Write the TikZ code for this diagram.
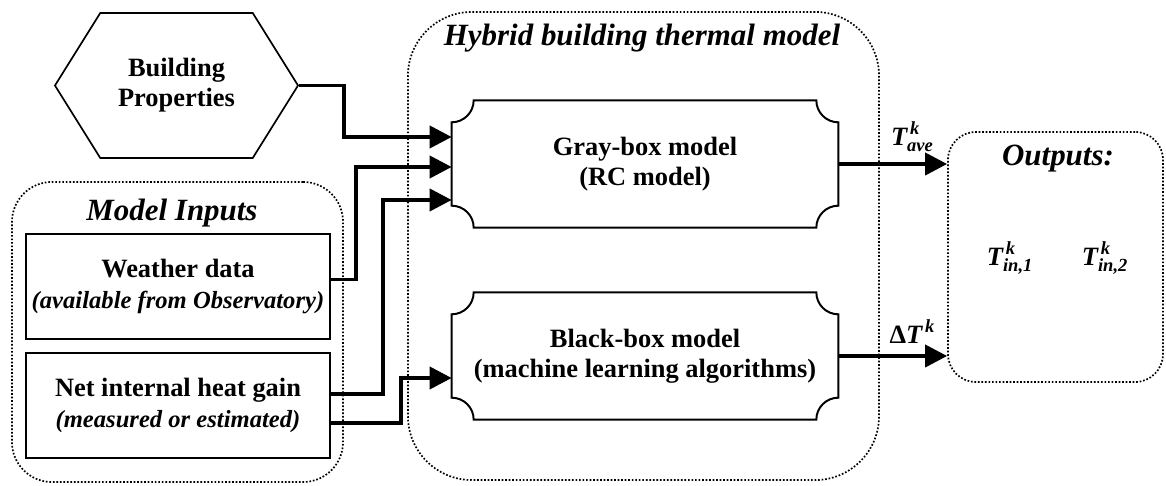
\documentclass[tikz,border=0pt]{standalone}
\usepackage{amsmath}
\usepackage{fontspec}
\setmainfont{Liberation Serif}
\usetikzlibrary{calc,arrows.meta,shapes.symbols}
\tikzset{
    txt/.style={font=\bfseries\fontsize{18.8}{21.5}\selectfont, align=center},
    ttl/.style={font=\bfseries\itshape\fontsize{22}{26}\selectfont},
    dotbox/.style={draw, line width=1.2pt, dash pattern=on 1.2pt off 1.3pt, rounded corners=#1, inner sep=0pt},
    inbox/.style={draw, line width=1pt, minimum width=7.6cm, minimum height=2.625cm, inner sep=0pt},
    modelbox/.style={minimum width=9.65cm, minimum height=3.17cm, inner sep=0pt},
    conn/.style={line width=2.8pt, -{Triangle[length=0.55cm,width=0.55cm]}}
}
\newcommand{\notchr}{0.55cm}
\newcommand{\notchbox}[1]{%
  \draw[line width=1.4pt]
    ($(#1.north west)+(\notchr,0)$) -- ($(#1.north east)-(\notchr,0)$)
    arc[start angle=180, end angle=270, radius=\notchr]
    -- ($(#1.south east)+(0,\notchr)$)
    arc[start angle=90, end angle=180, radius=\notchr]
    -- ($(#1.south west)+(\notchr,0)$)
    arc[start angle=0, end angle=90, radius=\notchr]
    -- ($(#1.north west)-(0,\notchr)$)
    arc[start angle=270, end angle=360, radius=\notchr] -- cycle;}
\newcommand{\bivar}[1]{\text{\bfseries\itshape #1}}
\newcommand{\note}[1]{{\itshape\fontsize{17.5}{21.5}\selectfont #1}}

\begin{document}
\begin{tikzpicture}[x=0.025cm,y=0.025cm]
\useasboundingbox (0,0) rectangle (1166,486);

% dotted groups
\node[dotbox=1cm, minimum width=8.275cm, minimum height=7.5cm] (inputs) at (177.5,154) {};
\node[dotbox=1.6cm, minimum width=11.775cm, minimum height=11.7cm] (hybrid) at (643.5,240) {};
\node[dotbox=0.7cm, minimum width=5.375cm, minimum height=6.25cm] (outs) at (1055.5,229) {};

\node[ttl] (inttl) at (172,273) {Model Inputs};
\node[ttl] (hyttl) at (642,448) {Hybrid building thermal model};
\node[ttl] (outttl) at (1058,327) {Outputs:};

% inputs
\node[draw, line width=1.2pt, shape=signal, signal to=west and east, signal pointer angle=116,
      minimum width=6.075cm, minimum height=3.625cm, inner sep=0pt, txt] (bprop) at (176.5,400.5) {Building\\Properties};
\node[inbox, txt] (wth) at (178,199.5) {Weather data\\\note{(available from Observatory)}};
\node[inbox, txt] (net) at (178,80.5) {Net internal heat gain\\\note{(measured or estimated)}};

% models
\node[modelbox, txt] (gray) at (645,322) {Gray-box model\\(RC model)};
\node[modelbox, txt] (blk) at (645,130) {Black-box model\\(machine\ learning\ algorithms)};
\notchbox{gray}
\notchbox{blk}

% outputs
\node[txt] (tin1) at (1010,228) {$\bivar{T}^{\,\bivar{k}}_{\bivar{in,1}}$};
\node[txt] (tin2) at (1105,228) {$\bivar{T}^{\,\bivar{k}}_{\bivar{in,2}}$};

% input arrows
\draw[conn] (bprop.east) -- ++(45,0) |- ($(gray.west)+(0,27)$);
\draw[conn] ($(wth.east)+(0,7)$) -- ++(25,0) |- ($(gray.west)+(0,-3)$);
\draw[conn] ($(net.east)+(0,11.5)$) -- ++(52,0) |- ($(gray.west)+(0,-36)$);
\draw[conn] ($(net.east)+(0,-17.5)$) -- ++(70,0) |- ($(blk.west)+(0,-22)$);

% output arrows
\draw[conn] (gray.east) -- (gray.east -| outs.west)
  node[txt, pos=.68, above=4pt] {$\bivar{T}^{\,\bivar{k}}_{\bivar{ave}}$};
\draw[conn] (blk.east) -- (blk.east -| outs.west)
  node[txt, pos=.68, above=4pt] {$\text{Δ}\bivar{T}^{\,\bivar{k}}$};

\end{tikzpicture}
\end{document}
